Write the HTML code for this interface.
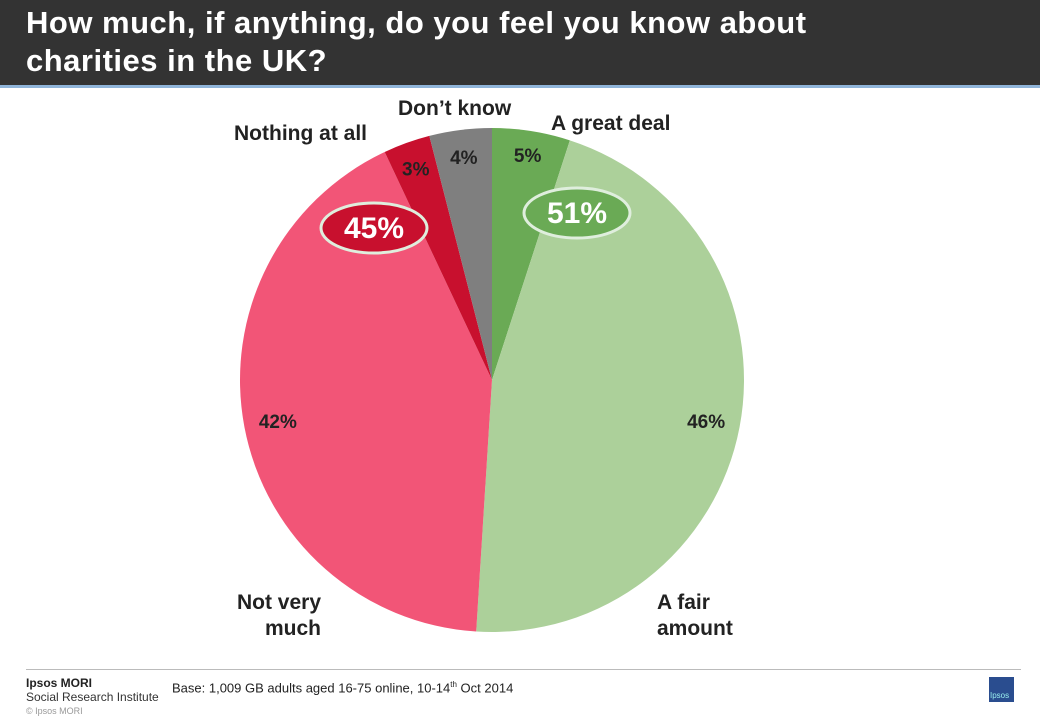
<!DOCTYPE html>
<html><head><meta charset="utf-8"><style>
body{margin:0;width:1040px;height:720px;background:#fff;font-family:"Liberation Sans",sans-serif;position:relative;overflow:hidden}
#hdr{position:absolute;left:0;top:0;width:1040px;height:85px;background:#333}
#hdr h1{margin:0;position:absolute;left:26px;top:4px;color:#fff;font-size:31px;line-height:38px;font-weight:bold;letter-spacing:0.5px}
#bl{position:absolute;left:0;top:85px;width:1040px;height:3px;background:#8fb4d9}
.lbl{position:absolute;font-weight:bold;font-size:21px;color:#222}
</style></head><body>
<div id="hdr"><h1>How much, if anything, do you feel you know about<br>charities in the UK?</h1></div>
<div id="bl"></div>
<svg id="pie" width="1040" height="720" style="position:absolute;left:0;top:0"></svg>
<div class="lbl" style="left:398px;top:97px">Don’t know</div>
<div class="lbl" style="left:551px;top:112px">A great deal</div>
<div class="lbl" style="left:234px;top:122px">Nothing at all</div>
<div class="lbl" style="left:231px;top:590px;text-align:right;width:90px;line-height:26px">Not very<br>much</div>
<div class="lbl" style="left:657px;top:590px;line-height:26px">A fair<br>amount</div>
<div style="position:absolute;left:26px;top:669px;width:995px;height:1px;background:#bbb"></div>
<div style="position:absolute;left:26px;top:676px;font-size:12px;font-weight:bold;color:#222">Ipsos MORI</div>
<div style="position:absolute;left:26px;top:690px;font-size:12px;color:#333">Social Research Institute</div>
<div style="position:absolute;left:26px;top:706px;font-size:9px;color:#999">© Ipsos MORI</div>
<div style="position:absolute;left:172px;top:680px;font-size:13px;color:#222">Base: 1,009 GB adults aged 16-75 online, 10-14<sup style="font-size:8px">th</sup> Oct 2014</div>
<div style="position:absolute;left:989px;top:677px;width:25px;height:25px;background:#2a4d8f"><span style="position:absolute;bottom:2px;left:1px;font-size:8px;color:#9ee">Ipsos</span></div>
<script>
const categories=["A great deal","A fair amount","Not very much","Nothing at all","Don't know"];
const values=[5,46,42,3,4];
const colors=["#6aaa55","#acd09a","#f25577","#c8102e","#7f7f7f"];
const cx=492,cy=380,r=252;
const ns="http://www.w3.org/2000/svg";
const svg=document.getElementById('pie');
const total=values.reduce((a,b)=>a+b,0);
function pt(frac,rad){const a=frac*2*Math.PI;return [cx+rad*Math.sin(a),cy-rad*Math.cos(a)];}
const labelR=[228,218,218,225,225];
let acc=0;
values.forEach((v,i)=>{
  const s=acc/total,e=(acc+v)/total;acc+=v;
  const p1=pt(s,r),p2=pt(e,r);
  const path=document.createElementNS(ns,'path');
  path.setAttribute('d',`M${cx},${cy}L${p1[0]},${p1[1]}A${r},${r} 0 ${(e-s)>0.5?1:0} 1 ${p2[0]},${p2[1]}Z`);
  path.setAttribute('fill',colors[i]);
  
  
  svg.appendChild(path);
  const m=pt((s+e)/2,labelR[i]);
  const t=document.createElementNS(ns,'text');
  t.setAttribute('x',m[0]);t.setAttribute('y',m[1]+7);
  t.setAttribute('text-anchor','middle');t.setAttribute('font-size','19');t.setAttribute('font-weight','bold');t.setAttribute('fill','#222');
  t.setAttribute('font-family','Liberation Sans, sans-serif');
  t.textContent=v+'%';
  
  
  svg.appendChild(t);
});
const nets=[[values[0]+values[1],577,213,"#6aaa55"],[values[2]+values[3],374,228,"#c8102e"]];
nets.forEach(n=>{
  const g=document.createElementNS(ns,'g');
  
  
  const el=document.createElementNS(ns,'ellipse');
  el.setAttribute('cx',n[1]);el.setAttribute('cy',n[2]);el.setAttribute('rx',53);el.setAttribute('ry',25);
  el.setAttribute('fill',n[3]);el.setAttribute('stroke','#dfeedd');el.setAttribute('stroke-width','3');
  g.appendChild(el);
  const t=document.createElementNS(ns,'text');
  t.setAttribute('x',n[1]);t.setAttribute('y',n[2]+10);t.setAttribute('text-anchor','middle');
  t.setAttribute('font-size','30');t.setAttribute('font-weight','bold');t.setAttribute('fill','#fff');
  t.setAttribute('font-family','Liberation Sans, sans-serif');
  t.textContent=n[0]+'%';
  g.appendChild(t);
  svg.appendChild(g);
});
</script>
</body></html>
